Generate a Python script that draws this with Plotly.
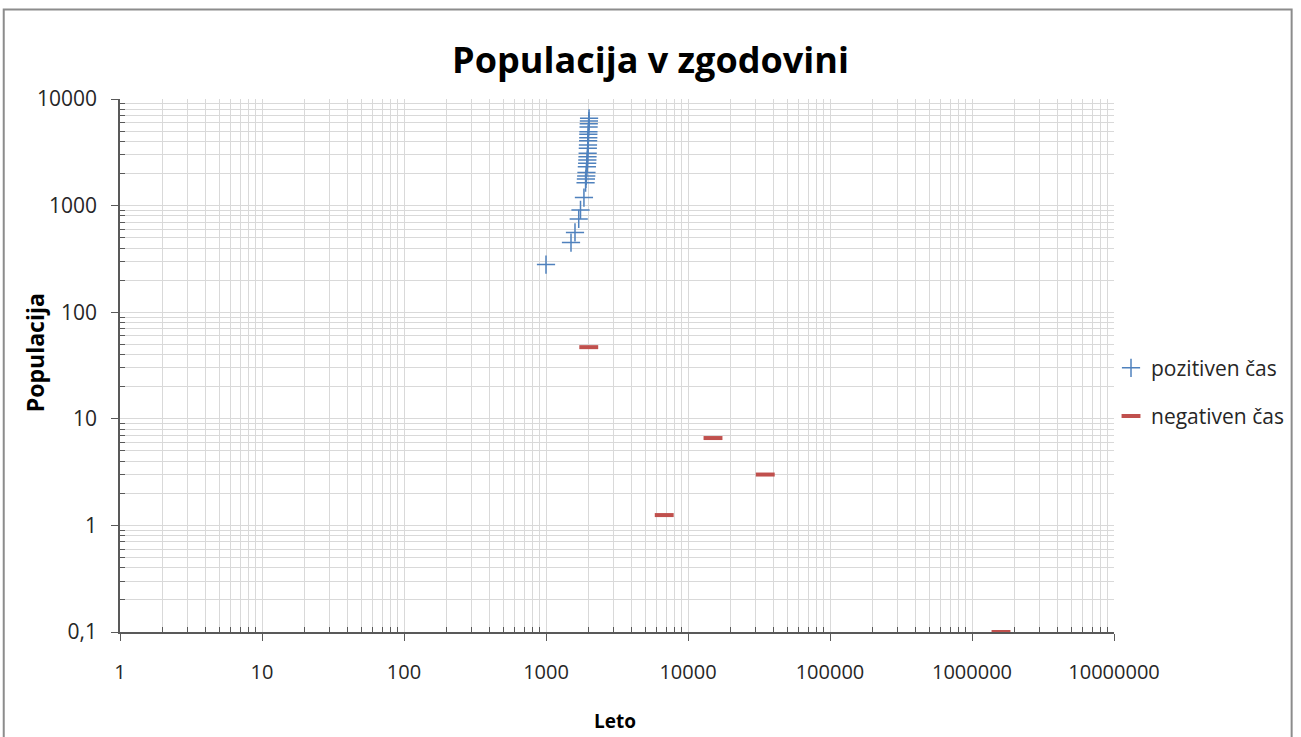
import plotly.graph_objects as go

# Data
pos_years = [1000, 1500, 1600, 1700, 1750, 1850, 1900, 1910, 1920, 1927, 1940,
             1950, 1955, 1960, 1965, 1970, 1975, 1980, 1985, 1987, 1990, 1995,
             2000, 2005, 2010]
pos_pop = [280, 450, 560, 750, 910, 1190, 1640, 1780, 1900, 2040, 2320,
           2500, 2680, 2880, 3100, 3450, 3700, 4060, 4340, 4660, 4930, 5460,
           5870, 6220, 6590]

neg_years = [2000, 6800, 15000, 35000, 1600000]
neg_pop = [47, 1.25, 6.6, 3.0, 0.1]

x_tickvals = [1, 10, 100, 1000, 10000, 100000, 1000000, 10000000]
x_ticktext = ["1", "10", "100", "1000", "10000", "100000", "1000000", "10000000"]
y_tickvals = [0.1, 1, 10, 100, 1000, 10000]
y_ticktext = ["0,1", "1", "10", "100", "1000", "10000"]

title_text = "Populacija v zgodovini"
x_title = "Leto"
y_title = "Populacija"
name_pos = "pozitiven čas"
name_neg = "negativen čas"

FONT = "'Open Sans', Lato, sans-serif"
BLUE = "#4F81BD"
RED = "#C0504D"
GRID = "#d9d9d9"
AXIS = "#595959"
TXT = "#262626"

def minor_vals(lo, hi):
    vals = []
    for e in range(lo, hi):
        for k in range(2, 10):
            vals.append(k * 10 ** e)
    return vals

fig = go.Figure()
fig.add_trace(go.Scatter(
    x=pos_years, y=pos_pop, mode="markers", name=name_pos,
    marker=dict(symbol="cross-thin", size=13, color=BLUE,
                line=dict(color=BLUE, width=1.5)),
    cliponaxis=False, legendgroup="a",
))
fig.add_trace(go.Scatter(
    x=neg_years, y=neg_pop, mode="markers", name=name_neg,
    marker=dict(symbol="line-ew", size=13.5, color=RED,
                line=dict(color=RED, width=4)),
    cliponaxis=False, legendgroup="b",
))

fig.update_layout(
    width=1301, height=737,
    margin=dict(l=120, r=185, t=99, b=105),
    paper_bgcolor="white", plot_bgcolor="white",
    font=dict(family=FONT, color=TXT, size=20),
    title=dict(text=title_text, x=0.5, xref="container", xanchor="center",
               y=1 - 60 / 737, yref="container", yanchor="middle",
               font=dict(family=FONT, size=36, color="black", weight="bold")),
    showlegend=True,
    legend=dict(x=(1113 - 120) / 996, xanchor="left", y=0.45, yanchor="middle",
                font=dict(family=FONT, size=21, color=TXT),
                traceorder="grouped", tracegroupgap=18,
                bgcolor="rgba(0,0,0,0)", itemwidth=30),
)

fig.update_xaxes(
    type="log", range=[0, 7],
    tickmode="array", tickvals=x_tickvals, ticktext=x_ticktext,
    ticks="outside", ticklen=7, tickcolor=AXIS, tickwidth=1,
    ticklabelstandoff=14,
    showline=True, linecolor=AXIS, linewidth=1.5,
    showgrid=True, gridcolor=GRID, gridwidth=1,
    zeroline=False,
    tickfont=dict(family=FONT, size=20, color=TXT),
    minor=dict(tickmode="array", tickvals=minor_vals(0, 7), ticks="inside",
               ticklen=5, tickcolor=AXIS, showgrid=True, gridcolor=GRID,
               gridwidth=1),
)
fig.update_yaxes(
    type="log", range=[-1, 4],
    tickmode="array", tickvals=y_tickvals, ticktext=y_ticktext,
    ticks="outside", ticklen=7, tickcolor=AXIS, tickwidth=1,
    ticklabelstandoff=10,
    showline=True, linecolor=AXIS, linewidth=1.5,
    showgrid=True, gridcolor=GRID, gridwidth=1,
    zeroline=False,
    tickfont=dict(family=FONT, size=21, color=TXT),
    minor=dict(tickmode="array", tickvals=minor_vals(-1, 4), ticks="inside",
               ticklen=5, tickcolor=AXIS, showgrid=True, gridcolor=GRID,
               gridwidth=1),
)

# Axis titles as annotations for precise placement
fig.add_annotation(text=x_title, xref="paper", yref="paper",
                   x=(616 - 120) / 996, y=(632 - 721) / 533,
                   xanchor="center", yanchor="middle", showarrow=False,
                   font=dict(family=FONT, size=19, color="black", weight="bold"))
fig.add_annotation(text=y_title, xref="paper", yref="paper",
                   x=(35 - 120) / 996, y=(632 - 353) / 533, textangle=-90,
                   xanchor="center", yanchor="middle", showarrow=False,
                   font=dict(family=FONT, size=23, color="black", weight="bold"))

# Outer chart-area border
fig.add_shape(type="rect", xref="paper", yref="paper",
              x0=(3.5 - 120) / 996, x1=(1294 - 120) / 996,
              y0=(632 - 745) / 533, y1=(632 - 9.5) / 533,
              line=dict(color="#8c8c8c", width=2), fillcolor="rgba(0,0,0,0)",
              layer="below")

fig.write_html("out.html", config={"displayModeBar": False},
               post_script="document.body.style.margin='0';")
